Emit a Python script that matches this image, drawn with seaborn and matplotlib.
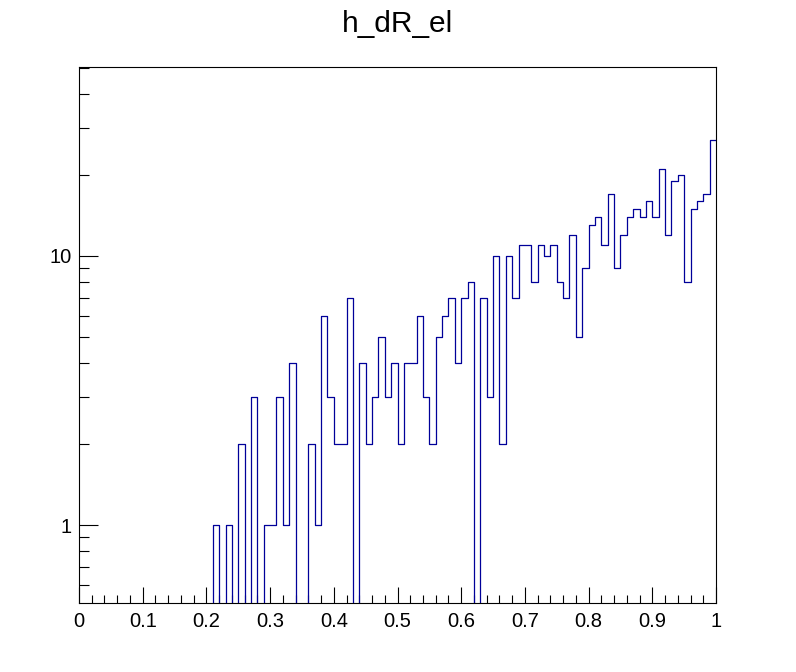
import numpy as np
import pandas as pd
import matplotlib
matplotlib.use("Agg")
import matplotlib.pyplot as plt
import seaborn as sns
from matplotlib.ticker import FixedLocator, FixedFormatter, NullFormatter

# ---- data (100 bins, width 0.01, from 0 to 1) ----
bin_edges = [round(i * 0.01, 2) for i in range(101)]
counts = [
    0, 0, 0, 0, 0, 0, 0, 0, 0, 0,        # 0.00-0.09
    0, 0, 0, 0, 0, 0, 0, 0, 0, 0,        # 0.10-0.19
    0, 1, 0, 1, 0, 2, 0, 3, 0, 1,        # 0.20-0.29
    1, 3, 1, 4, 0, 0, 2, 1, 6, 3,        # 0.30-0.39
    2, 2, 7, 0, 4, 2, 3, 5, 3, 4,        # 0.40-0.49
    2, 4, 4, 6, 3, 2, 5, 6, 7, 4,        # 0.50-0.59
    7, 8, 0, 7, 3, 10, 2, 10, 7, 11,     # 0.60-0.69
    11, 8, 11, 10, 11, 8, 7, 12, 5, 9,   # 0.70-0.79
    13, 14, 11, 17, 9, 12, 14, 15, 14, 16,  # 0.80-0.89
    14, 21, 12, 19, 20, 8, 15, 16, 17, 27,  # 0.90-0.99
]
title = "h_dR_el"
x_major = [0, 0.1, 0.2, 0.3, 0.4, 0.5, 0.6, 0.7, 0.8, 0.9, 1.0]
x_labels = ["0", "0.1", "0.2", "0.3", "0.4", "0.5", "0.6", "0.7", "0.8", "0.9", "1"]
y_major = [1, 10]
y_labels = ["1", "10"]
y_minor = [0.6, 0.7, 0.8, 0.9, 2, 3, 4, 5, 6, 7, 8, 9, 20, 30, 40, 50]

centers = [(bin_edges[i] + bin_edges[i + 1]) / 2 for i in range(len(counts))]
df = pd.DataFrame({"dR": centers, "n": counts})

sns.set_style("ticks")
plt.rcParams["font.family"] = ["Liberation Sans", "DejaVu Sans"]
plt.rcParams["text.color"] = "black"
plt.rcParams["xtick.color"] = "black"
plt.rcParams["ytick.color"] = "black"

fig = plt.figure(figsize=(7.96, 6.72), dpi=100)
ax = fig.add_axes([79 / 796, 1 - 603 / 672, (716 - 79) / 796, (603 - 67) / 672])

sns.histplot(data=df, x="dR", weights="n", bins=bin_edges, element="step",
             fill=False, color="#000099", linewidth=0.9, ax=ax)

ax.set_yscale("log")
ax.set_xlim(0, 1)
ax.set_ylim(0.513, 50.4)

ax.xaxis.set_major_locator(FixedLocator(x_major))
ax.xaxis.set_major_formatter(FixedFormatter(x_labels))
ax.xaxis.set_minor_locator(FixedLocator([round(i * 0.02, 2) for i in range(51)]))
ax.yaxis.set_major_locator(FixedLocator(y_major))
ax.yaxis.set_major_formatter(FixedFormatter(y_labels))
ax.yaxis.set_minor_locator(FixedLocator(y_minor))
ax.yaxis.set_minor_formatter(NullFormatter())

ax.set_xlabel("")
ax.set_ylabel("")

for s in ax.spines.values():
    s.set_visible(True)
    s.set_linewidth(0.8)
    s.set_color("black")

ax.tick_params(axis="x", which="major", direction="in", length=11.5, width=0.8,
               labelsize=14.5, pad=6.5, colors="black", labelcolor="black", top=False)
ax.tick_params(axis="x", which="minor", direction="in", length=5.8, width=0.8, top=False)
ax.tick_params(axis="y", which="major", direction="in", length=13.7, width=0.8,
               labelsize=14.5, pad=5.0, colors="black", labelcolor="black", right=False)
ax.tick_params(axis="y", which="minor", direction="in", length=7.2, width=0.8, right=False)

fig.text(0.5, 1 - 32 / 672, title, ha="center", va="baseline", fontsize=21.5,
         color="black")

fig.savefig("out.png", dpi=100)
